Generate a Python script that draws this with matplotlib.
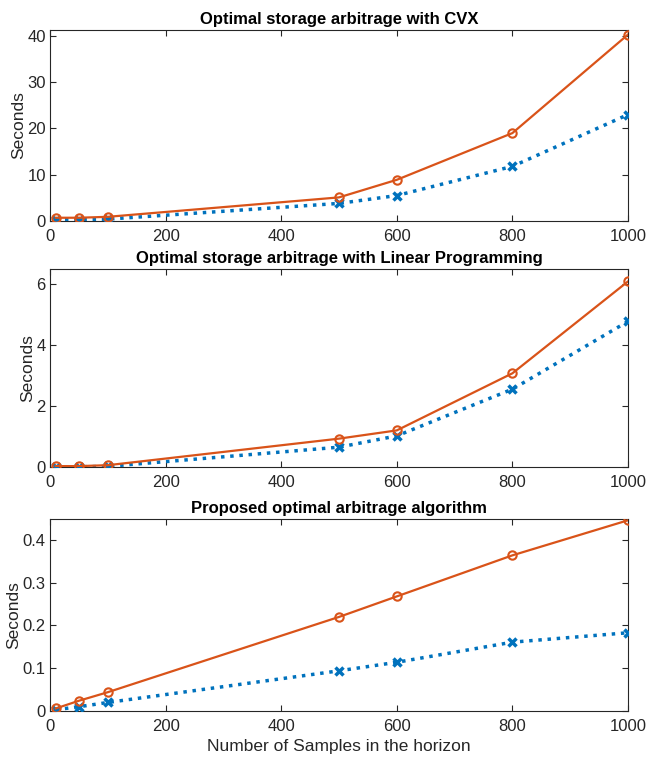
import matplotlib
matplotlib.use("Agg")
import matplotlib.pyplot as plt

plt.rcParams['font.family'] = ['Liberation Sans', 'DejaVu Sans']

samples = [10, 50, 100, 500, 600, 800, 1000]

cvx_orange = [0.7, 0.7, 0.9, 5.1, 8.9, 19.0, 40.3]
cvx_blue = [0.3, 0.3, 0.4, 3.8, 5.5, 11.8, 23.0]

lp_orange = [0.03, 0.03, 0.06, 0.93, 1.2, 3.07, 6.08]
lp_blue = [0.01, 0.01, 0.02, 0.65, 1.02, 2.55, 4.77]

prop_orange = [0.006, 0.024, 0.044, 0.220, 0.268, 0.364, 0.446]
prop_blue = [0.003, 0.010, 0.020, 0.094, 0.114, 0.161, 0.183]

titles = ["Optimal storage arbitrage with CVX",
          "Optimal storage arbitrage with Linear Programming",
          "Proposed optimal arbitrage algorithm"]
yticks_list = [[0, 10, 20, 30, 40], [0, 2, 4, 6], [0, 0.1, 0.2, 0.3, 0.4]]
ytick_labels = [["0", "10", "20", "30", "40"], ["0", "2", "4", "6"],
                ["0", "0.1", "0.2", "0.3", "0.4"]]
ylims = [41.3, 6.49, 0.449]
xticks = [0, 200, 400, 600, 800, 1000]

BLUE = '#0072BD'
ORANGE = '#D95319'

fig = plt.figure(figsize=(6.46, 7.62), dpi=100)
positions = [[0.0774, 0.710, 0.8947, 0.2507],
             [0.0774, 0.3871, 0.8947, 0.2600],
             [0.0774, 0.0669, 0.8947, 0.2520]]
data = [(cvx_blue, cvx_orange), (lp_blue, lp_orange), (prop_blue, prop_orange)]

for i, pos in enumerate(positions):
    ax = fig.add_axes(pos)
    b, o = data[i]
    ax.plot(samples, b, linestyle=':', color=BLUE, linewidth=2.5,
            marker='x', markersize=6, markeredgewidth=2.5, zorder=3)
    ax.plot(samples, o, linestyle='-', color=ORANGE, linewidth=1.6,
            marker='o', markersize=6, markerfacecolor='none',
            markeredgewidth=1.5, zorder=4)
    ax.set_xlim(0, 1000)
    ax.set_ylim(0, ylims[i])
    ax.set_xticks(xticks)
    ax.set_xticklabels([str(t) for t in xticks])
    ax.set_yticks(yticks_list[i])
    ax.set_yticklabels(ytick_labels[i])
    ax.tick_params(direction='in', top=True, right=True, length=4,
                   labelsize=12, colors='#262626', width=0.8, pad=3)
    ax.tick_params(axis='x', pad=6)
    for s in ax.spines.values():
        s.set_color('#262626')
        s.set_linewidth(0.8)
    ax.set_ylabel("Seconds", fontsize=12.5, color='#262626', labelpad=1)
    ax.set_title(titles[i], fontsize=12, fontweight='bold', pad=4)

ax.set_xlabel("Number of Samples in the horizon", fontsize=12.5,
              color='#262626', labelpad=3)

fig.savefig("out.png", dpi=100)
